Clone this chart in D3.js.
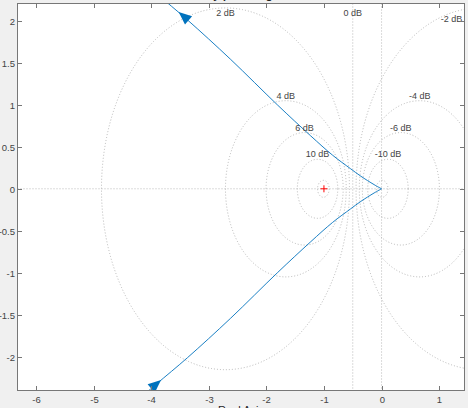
<!DOCTYPE html>
<html>
<head>
<meta charset="utf-8">
<script src="https://cdn.jsdelivr.net/npm/d3@7"></script>
<style>
  body { margin: 0; background: #f0f0f0; }
  svg { display: block; font-family: "Liberation Sans", Arial, sans-serif; }
</style>
</head>
<body>
<script>
// positive frequency branch (real, imag), low to high freq
var re = [-4.55, -3.92, -3.37, -2.62, -1.81, -1.23, -0.85, -0.54, -0.36, -0.13, 0];
var im = [-2.70, -2.33, -2.01, -1.54, -1.00, -0.63, -0.40, -0.24, -0.15, -0.05, 0];
// direction arrows (real, imag)
var arrowRe = [-3.92, -3.43];
var arrowIm = [-2.33, 2.05];

var gridDb = [-20, -10, -6, -4, -2, 0, 2, 4, 6, 10, 20];
var labelDb = [-10, -6, -4, -2, 0, 2, 4, 6, 10];
var xTicks = [-6, -5, -4, -3, -2, -1, 0, 1];
var yTicks = [-2, -1.5, -1, -0.5, 0, 0.5, 1, 1.5, 2];

var width = 468, height = 408;
// note: "top" is a reserved window global, so use ax* names
var axLeft = 17.5, axRight = 464.5, axTop = 3.5, axBottom = 390.5;

var svg = d3.select("body").append("svg")
    .attr("width", width)
    .attr("height", height);

svg.append("rect").attr("width", width).attr("height", height).attr("fill", "#f0f0f0");

var x = d3.scaleLinear().domain([-6.32, 1.44]).range([axLeft, axRight]);
var y = d3.scaleLinear().domain([-2.40, 2.205]).range([axBottom, axTop]);

svg.append("defs").append("clipPath").attr("id", "clip")
    .append("rect")
    .attr("x", axLeft).attr("y", axTop)
    .attr("width", axRight - axLeft).attr("height", axBottom - axTop);

svg.append("rect")
    .attr("x", axLeft).attr("y", axTop)
    .attr("width", axRight - axLeft).attr("height", axBottom - axTop)
    .attr("fill", "#fff");

var plot = svg.append("g").attr("clip-path", "url(#clip)");
var gridCol = "#a6a6a6", dots = "1,2";

// axes lines through origin
plot.append("line")
    .attr("x1", axLeft).attr("x2", axRight).attr("y1", y(0)).attr("y2", y(0))
    .attr("stroke", gridCol).attr("stroke-dasharray", dots).attr("stroke-width", 0.8);
plot.append("line")
    .attr("x1", x(0)).attr("x2", x(0)).attr("y1", axTop).attr("y2", axBottom)
    .attr("stroke", gridCol).attr("stroke-dasharray", dots).attr("stroke-width", 0.8);

// M circles
function mCircle(db) {
    var m = Math.pow(10, db / 20);
    if (db === 0) return {line: true, c: -0.5, r: 0};
    return {c: -m * m / (m * m - 1), r: Math.abs(m / (m * m - 1))};
}
var kx = x(1) - x(0), ky = y(0) - y(1);

gridDb.forEach(function (db) {
    var g = mCircle(db);
    if (g.line) {
        plot.append("line")
            .attr("x1", x(g.c)).attr("x2", x(g.c)).attr("y1", axTop).attr("y2", axBottom)
            .attr("stroke", gridCol).attr("stroke-dasharray", dots).attr("stroke-width", 0.8);
    } else {
        plot.append("ellipse")
            .attr("cx", x(g.c)).attr("cy", y(0))
            .attr("rx", g.r * kx).attr("ry", g.r * ky)
            .attr("fill", "none")
            .attr("stroke", gridCol).attr("stroke-dasharray", dots).attr("stroke-width", 0.8);
    }
});

labelDb.forEach(function (db) {
    var g = mCircle(db);
    var px, py;
    if (g.line) {
        px = x(g.c); py = 13;
    } else if (x(g.c) > axRight - 10) {
        var xv = x.invert(axRight - 13);
        px = axRight - 13;
        py = y(Math.sqrt(g.r * g.r - (xv - g.c) * (xv - g.c))) + 6;
    } else {
        px = x(g.c);
        py = Math.max(13, y(g.r) - 5);
    }
    svg.append("text")
        .attr("x", px).attr("y", py)
        .attr("dy", "0.35em")
        .attr("text-anchor", "middle")
        .attr("font-size", 9)
        .attr("fill", "#444")
        .text(db + " dB");
});

// critical point
var cp = [x(-1), y(0)];
plot.append("path")
    .attr("d", "M" + (cp[0] - 3.5) + "," + cp[1] + "H" + (cp[0] + 3.5) +
               "M" + cp[0] + "," + (cp[1] - 3.5) + "V" + (cp[1] + 3.5))
    .attr("stroke", "#ff0000").attr("stroke-width", 1);

// nyquist curve: pos = w from 0+ to inf, neg = w from -inf to 0- (mirror)
var pos = re.map(function (v, i) { return [v, im[i]]; });
var neg = pos.map(function (p) { return [p[0], -p[1]]; }).reverse();

var line = d3.line()
    .x(function (d) { return x(d[0]); })
    .y(function (d) { return y(d[1]); })
    .curve(d3.curveCatmullRom);

var blue = "#0072bd";
[pos, neg].forEach(function (b) {
    plot.append("path")
        .attr("d", line(b))
        .attr("fill", "none")
        .attr("stroke", blue)
        .attr("stroke-width", 0.9);
});

// arrows follow the branch direction at their point
arrowRe.forEach(function (r, k) {
    var i = arrowIm[k];
    var b = i < 0 ? pos : neg;
    var seg = 0;
    for (var j = 0; j < b.length - 1; j++) {
        var lo = Math.min(b[j][0], b[j + 1][0]), hi = Math.max(b[j][0], b[j + 1][0]);
        if (r >= lo && r <= hi) { seg = j; break; }
    }
    var p = b[seg], q = b[seg + 1];
    var ang = Math.atan2(y(q[1]) - y(p[1]), x(q[0]) - x(p[0])) * 180 / Math.PI;
    plot.append("path")
        .attr("d", "M7,0L-6,-5.5L-6,5.5Z")
        .attr("transform", "translate(" + x(r) + "," + y(i) + ") rotate(" + ang + ")")
        .attr("fill", blue);
});

// box and ticks
svg.append("rect")
    .attr("x", axLeft).attr("y", axTop)
    .attr("width", axRight - axLeft).attr("height", axBottom - axTop)
    .attr("fill", "none").attr("stroke", "#777").attr("stroke-width", 1);

var tl = 4.5;
xTicks.forEach(function (t) {
    var px = Math.round(x(t)) + 0.5;
    svg.append("line").attr("x1", px).attr("x2", px).attr("y1", axBottom).attr("y2", axBottom - tl)
        .attr("stroke", "#777");
    svg.append("line").attr("x1", px).attr("x2", px).attr("y1", axTop).attr("y2", axTop + tl)
        .attr("stroke", "#777");
    svg.append("text")
        .attr("x", px).attr("y", 400)
        .attr("dy", "0.35em")
        .attr("text-anchor", "middle")
        .attr("font-size", 9.5)
        .attr("fill", "#444")
        .text(t);
});
yTicks.forEach(function (t) {
    var py = Math.round(y(t)) + 0.5;
    svg.append("line").attr("x1", axLeft).attr("x2", axLeft + tl).attr("y1", py).attr("y2", py)
        .attr("stroke", "#777");
    svg.append("line").attr("x1", axRight).attr("x2", axRight - tl).attr("y1", py).attr("y2", py)
        .attr("stroke", "#777");
    svg.append("text")
        .attr("x", 15).attr("y", py)
        .attr("dy", "0.35em")
        .attr("text-anchor", "end")
        .attr("font-size", 9.5)
        .attr("fill", "#444")
        .text(t);
});

svg.append("text")
    .attr("x", (axLeft + axRight) / 2).attr("y", 414)
    .attr("text-anchor", "middle")
    .attr("font-size", 11)
    .attr("fill", "#262626")
    .text("Real Axis");

svg.append("text")
    .attr("x", (axLeft + axRight) / 2 + 8).attr("y", -1)
    .attr("text-anchor", "middle")
    .attr("font-size", 11)
    .attr("font-weight", "bold")
    .attr("fill", "#262626")
    .text("Nyquist Diagram");
</script>
</body>
</html>
